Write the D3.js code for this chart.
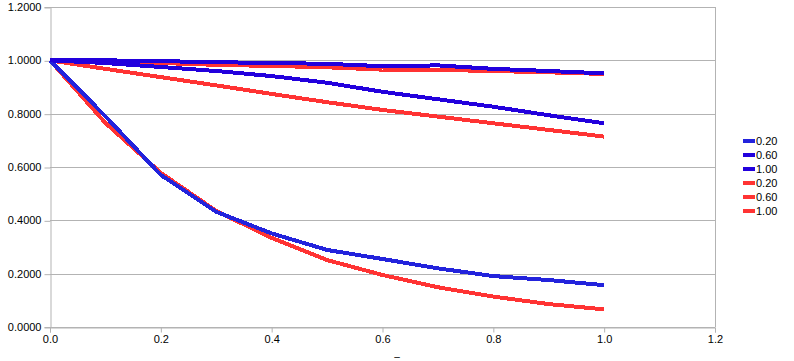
<!DOCTYPE html>
<html>
<head>
<meta charset="utf-8">
<script src="https://cdn.jsdelivr.net/npm/d3@7"></script>
<style>
  body { margin: 0; background: #fff; }
  svg { display: block; font-family: "Liberation Sans", Arial, sans-serif; }
  .tick text { font-size: 11px; fill: #000; }
</style>
</head>
<body>
<svg id="chart" width="794" height="361"></svg>
<script>
// ── Data ─────────────────────────────────────────────
const xValues = [0, 0.1, 0.2, 0.3, 0.4, 0.5, 0.6, 0.7, 0.8, 0.9, 1.0];
const seriesNames = ['0.20', '0.60', '1.00', '0.20', '0.60', '1.00'];
const blue020 = [1.0, 0.790, 0.570, 0.432, 0.351, 0.289, 0.255, 0.220, 0.191, 0.176, 0.157];
const blue060 = [1.0, 0.990, 0.975, 0.960, 0.941, 0.916, 0.882, 0.854, 0.826, 0.794, 0.764];
const blue100 = [1.0, 1.0, 0.997, 0.993, 0.990, 0.987, 0.978, 0.981, 0.968, 0.960, 0.951];
const red020 = [1.0, 0.765, 0.578, 0.435, 0.334, 0.251, 0.195, 0.149, 0.114, 0.086, 0.066];
const red060 = [1.0, 0.968, 0.937, 0.906, 0.874, 0.843, 0.814, 0.789, 0.764, 0.739, 0.714];
const red100 = [1.0, 0.995, 0.990, 0.983, 0.979, 0.974, 0.965, 0.964, 0.960, 0.955, 0.949];
const xTicks = [0, 0.2, 0.4, 0.6, 0.8, 1.0, 1.2];
const yTicks = [0, 0.2, 0.4, 0.6, 0.8, 1.0, 1.2];

const series = [
  { name: seriesNames[0], values: blue020, color: '#2323dc' },
  { name: seriesNames[1], values: blue060, color: '#2200dd' },
  { name: seriesNames[2], values: blue100, color: '#2200dd' },
  { name: seriesNames[3], values: red020, color: '#ff3333' },
  { name: seriesNames[4], values: red060, color: '#ff3333' },
  { name: seriesNames[5], values: red100, color: '#ff3333' },
];

// ── Setup ────────────────────────────────────────────
const svg = d3.select('#chart');
const margin = { left: 50, right: 79, top: 7, bottom: 34 };
const W = 794, H = 361;
const FONT = '"Liberation Sans", Arial, sans-serif';

const x = d3.scaleLinear().domain([0, 1.2]).range([margin.left, W - margin.right]);
const y = d3.scaleLinear().domain([0, 1.2]).range([H - margin.bottom, margin.top]);

// grid
svg.append('g')
  .selectAll('line')
  .data(yTicks)
  .join('line')
  .attr('x1', x(0)).attr('x2', x(1.2))
  .attr('y1', d => Math.round(y(d)) + 0.5).attr('y2', d => Math.round(y(d)) + 0.5)
  .attr('stroke', '#b3b3b3');

svg.append('line')
  .attr('x1', Math.round(x(1.2)) + 0.5).attr('x2', Math.round(x(1.2)) + 0.5)
  .attr('y1', y(1.2)).attr('y2', y(0))
  .attr('stroke', '#b3b3b3');

// axes
const yAxis = svg.append('g')
  .attr('transform', `translate(${Math.round(x(0)) + 0.5},0)`)
  .call(d3.axisLeft(y).tickValues(yTicks).tickFormat(d3.format('.4f')).tickSize(6).tickPadding(3));
const xAxis = svg.append('g')
  .attr('transform', `translate(0,${Math.round(y(0)) + 0.5})`)
  .call(d3.axisBottom(x).tickValues(xTicks).tickFormat(d3.format('.1f')).tickSize(5).tickPadding(3));
[xAxis, yAxis].forEach(a => {
  a.attr('font-family', FONT).attr('font-size', 11);
  a.select('.domain').attr('stroke', '#b3b3b3');
  a.selectAll('.tick line').attr('stroke', '#b3b3b3');
});
yAxis.selectAll('.tick line').attr('transform', 'translate(0,0.5)');

// x-axis title
svg.append('text')
  .attr('x', 397)
  .attr('y', 360)
  .attr('text-anchor', 'middle')
  .attr('font-size', 10)
  .text('–');

// ── Lines ────────────────────────────────────────────
const line = d3.line()
  .x((d, i) => x(xValues[i]))
  .y(d => y(d));

const drawOrder = [3, 4, 5, 0, 1, 2];
svg.append('g')
  .selectAll('path')
  .data(drawOrder.map(i => series[i]))
  .join('path')
  .attr('d', d => line(d.values))
  .attr('fill', 'none')
  .attr('stroke', d => d.color)
  .attr('stroke-width', 4)
  .attr('stroke-linejoin', 'round')
  .attr('shape-rendering', 'crispEdges');

// ── Legend ───────────────────────────────────────────
const legend = svg.append('g').attr('transform', 'translate(743,141)');
const item = legend.selectAll('g')
  .data(series)
  .join('g')
  .attr('transform', (d, i) => `translate(0,${i * 14})`);
item.append('rect')
  .attr('x', 0).attr('y', -2)
  .attr('width', 12).attr('height', 4)
  .attr('fill', d => d.color);
item.append('text')
  .attr('x', 13).attr('y', 4)
  .attr('font-size', 11)
  .text(d => d.name);
</script>
</body>
</html>
